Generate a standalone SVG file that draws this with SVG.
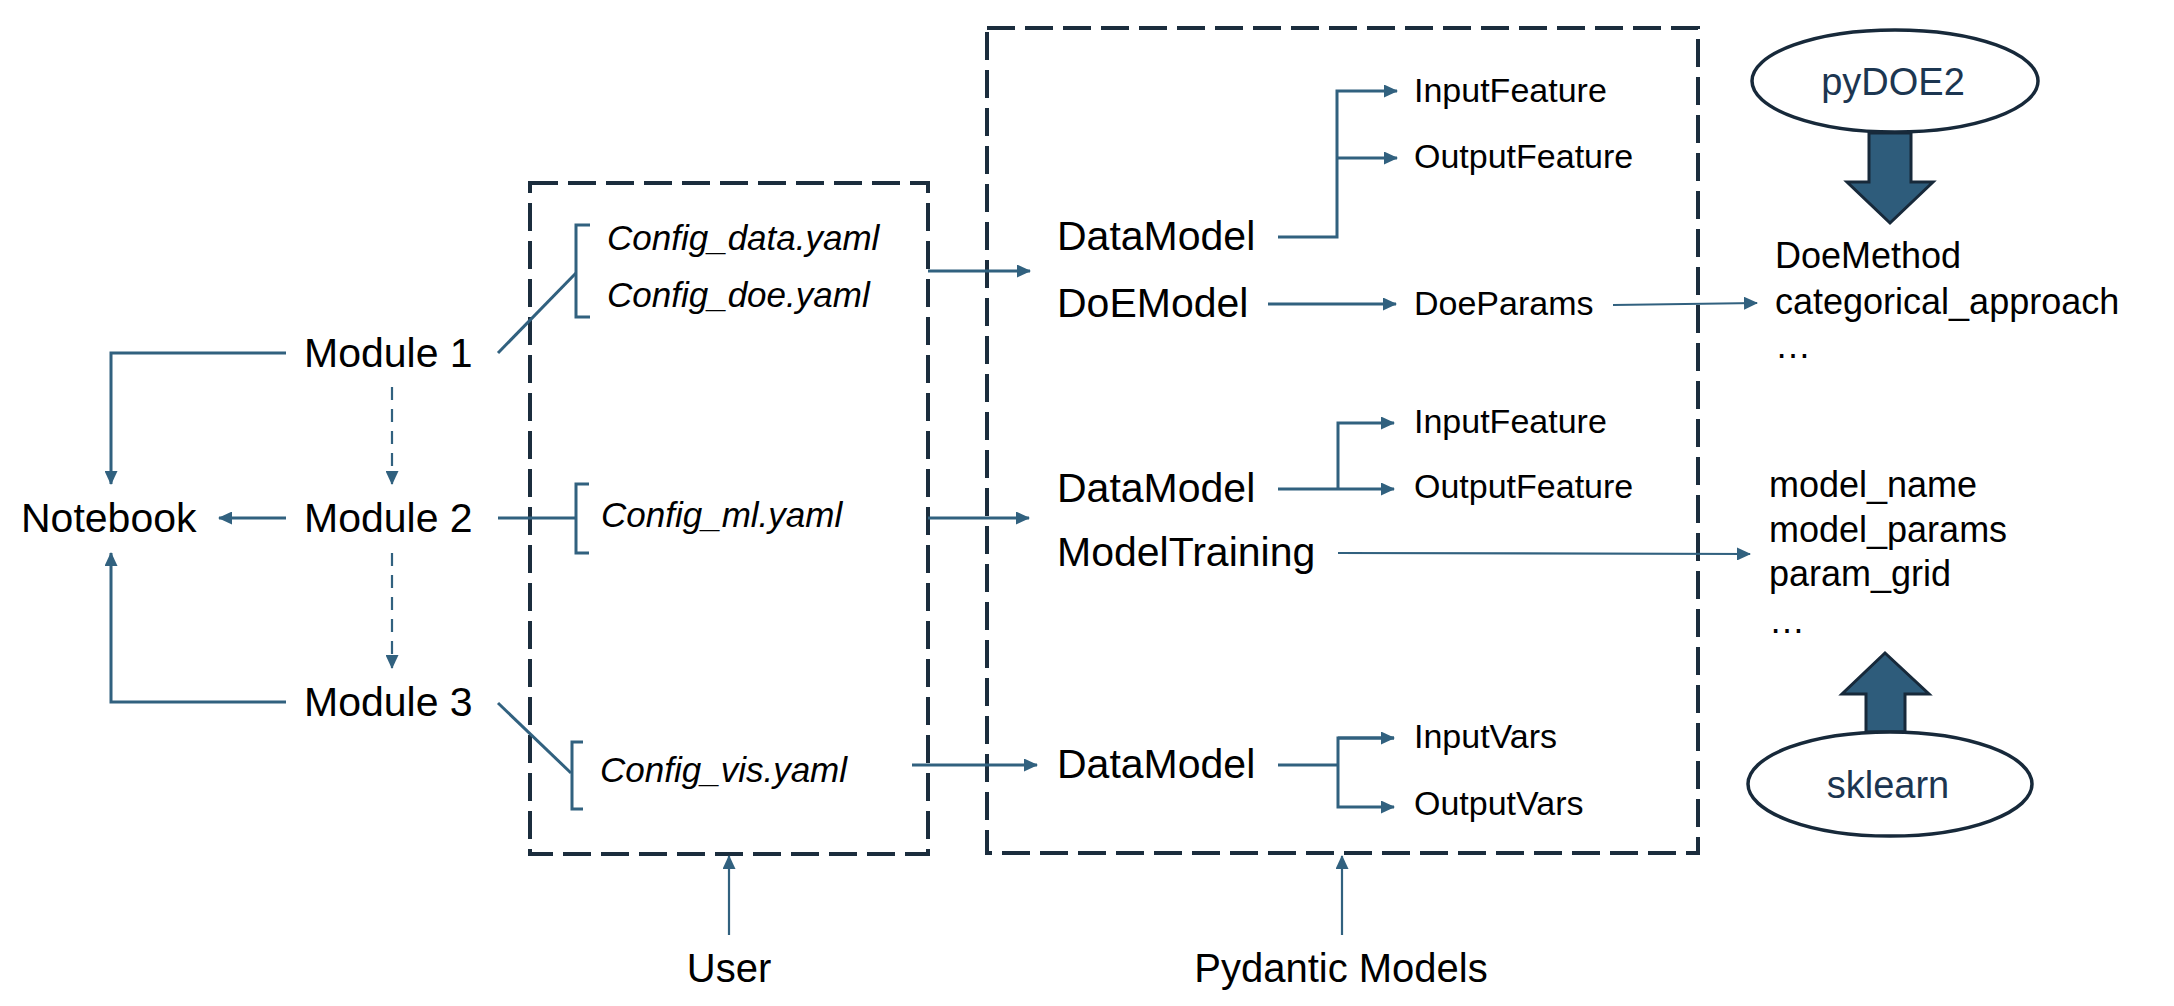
<svg xmlns="http://www.w3.org/2000/svg" width="2174" height="1006" viewBox="0 0 2174 1006">
<style>
.t{font-family:"Liberation Sans",Arial,sans-serif;fill:#000}
.main{font-size:41px}
.sub{font-size:34px}
.cfg{font-size:35px;font-style:italic}
.rt{font-size:36px}
.lib{font-size:38px;fill:#1c3651;text-anchor:middle}
.bot{font-size:40px;text-anchor:middle}
.conn{stroke:#31617f;stroke-width:3;fill:none}
.thin{stroke-width:2.2}
.dash{stroke-dasharray:13 9}
.box{stroke:#1b2d3d;stroke-width:4;stroke-dasharray:28 10;fill:none}
.ell{fill:#fff;stroke:#17293a;stroke-width:3.5}
.big{fill:#2e5c7b;stroke:#17293a;stroke-width:3;stroke-linejoin:miter}
</style>
<defs>
<marker id="ah" markerUnits="userSpaceOnUse" markerWidth="14" markerHeight="13" refX="13" refY="6.5" orient="auto">
<path d="M0,0 L14,6.5 L0,13 z" fill="#31617f"/>
</marker>
</defs>
<rect width="2174" height="1006" fill="#fff"/>

<g id="user-box"><rect class="box" x="530" y="183" width="398" height="671"/></g>
<g id="pydantic-box"><rect class="box" x="987" y="28" width="711" height="825"/></g>

<g id="connectors">
<!-- Module to Notebook -->
<path class="conn" d="M286,353 H111 V484" marker-end="url(#ah)"/>
<path class="conn" d="M286,518 H219" marker-end="url(#ah)"/>
<path class="conn" d="M286,702 H111 V553" marker-end="url(#ah)"/>
<!-- dashed module flow -->
<path class="conn thin dash" d="M392,387 V484" marker-end="url(#ah)"/>
<path class="conn thin dash" d="M392,553 V668" marker-end="url(#ah)"/>
<!-- brackets -->
<path class="conn" d="M498,353 L576,273"/>
<path class="conn" d="M590,225 H576 V317 H590"/>
<path class="conn" d="M498,518 H576"/>
<path class="conn" d="M589,484 H576 V553 H589"/>
<path class="conn" d="M498,703 L571,773"/>
<path class="conn" d="M583,742 H572 V809 H583"/>
<!-- config to models -->
<path class="conn" d="M928,271 H1030" marker-end="url(#ah)"/>
<path class="conn" d="M928,518 H1029" marker-end="url(#ah)"/>
<path class="conn" d="M912,765 H1037" marker-end="url(#ah)"/>
<!-- DataModel 1 -->
<path class="conn" d="M1278,237 H1337 V91 H1397" marker-end="url(#ah)"/>
<path class="conn" d="M1337,158 H1397" marker-end="url(#ah)"/>
<!-- DoEModel -->
<path class="conn" d="M1268,304 H1396" marker-end="url(#ah)"/>
<path class="conn thin" d="M1613,305 L1757,303" marker-end="url(#ah)"/>
<!-- DataModel 2 -->
<path class="conn" d="M1278,489 H1394" marker-end="url(#ah)"/>
<path class="conn" d="M1338,489 V423 H1394" marker-end="url(#ah)"/>
<path class="conn thin" d="M1338,553 L1750,554" marker-end="url(#ah)"/>
<!-- DataModel 3 -->
<path class="conn" d="M1278,765 H1338"/>
<path class="conn" d="M1394,738 H1338 V807 H1394" marker-end="url(#ah)"/>
<path class="conn" d="M1338,738 H1394" marker-end="url(#ah)"/>
<!-- bottom labels -->
<path class="conn thin" d="M729,935 V856" marker-end="url(#ah)"/>
<path class="conn thin" d="M1342,935 V856" marker-end="url(#ah)"/>
</g>

<g id="notebook"><text class="t main" x="21" y="532">Notebook</text></g>
<g id="module1"><text class="t main" x="304" y="367">Module 1</text></g>
<g id="module2"><text class="t main" x="304" y="532">Module 2</text></g>
<g id="module3"><text class="t main" x="304" y="716">Module 3</text></g>

<g id="configs">
<text class="t cfg" x="607" y="250">Config_data.yaml</text>
<text class="t cfg" x="607" y="307">Config_doe.yaml</text>
<text class="t cfg" x="601" y="527">Config_ml.yaml</text>
<text class="t cfg" x="600" y="782">Config_vis.yaml</text>
</g>

<g id="models">
<text class="t main" x="1057" y="250">DataModel</text>
<text class="t main" x="1057" y="317">DoEModel</text>
<text class="t main" x="1057" y="502">DataModel</text>
<text class="t main" x="1057" y="566">ModelTraining</text>
<text class="t main" x="1057" y="778">DataModel</text>
</g>

<g id="fields">
<text class="t sub" x="1414" y="102">InputFeature</text>
<text class="t sub" x="1414" y="168">OutputFeature</text>
<text class="t sub" x="1414" y="315">DoeParams</text>
<text class="t sub" x="1414" y="433">InputFeature</text>
<text class="t sub" x="1414" y="498">OutputFeature</text>
<text class="t sub" x="1414" y="748">InputVars</text>
<text class="t sub" x="1414" y="815">OutputVars</text>
</g>

<g id="doe-params">
<text class="t rt" x="1775" y="268">DoeMethod</text>
<text class="t rt" x="1775" y="314">categorical_approach</text>
<text class="t rt" x="1775" y="358">…</text>
</g>

<g id="ml-params">
<text class="t rt" x="1769" y="497">model_name</text>
<text class="t rt" x="1769" y="542">model_params</text>
<text class="t rt" x="1769" y="586">param_grid</text>
<text class="t rt" x="1769" y="633">…</text>
</g>

<g id="pydoe2">
<path class="big" d="M1869,133 V182 H1847 L1890,223 L1933,182 H1911 V133 z"/>
<ellipse class="ell" cx="1895" cy="81" rx="143" ry="51"/>
<text class="t lib" x="1893" y="95">pyDOE2</text>
</g>

<g id="sklearn">
<path class="big" d="M1866,732 V694 H1842 L1885,653 L1929,694 H1905 V732 z"/>
<ellipse class="ell" cx="1890" cy="784" rx="142" ry="52"/>
<text class="t lib" x="1888" y="798">sklearn</text>
</g>

<g id="user"><text class="t bot" x="729" y="982">User</text></g>
<g id="pydantic"><text class="t bot" x="1341" y="982">Pydantic Models</text></g>
</svg>
